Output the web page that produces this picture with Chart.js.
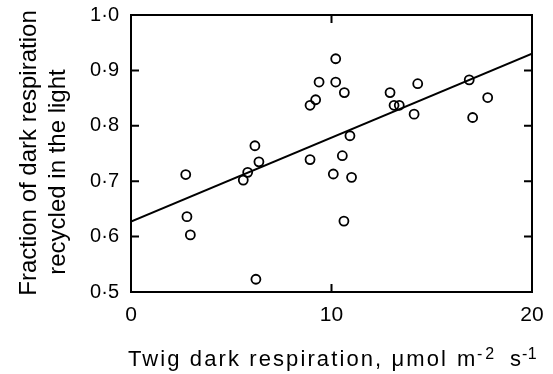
<!DOCTYPE html>
<html>
<head>
<meta charset="utf-8">
<script src="https://cdn.jsdelivr.net/npm/chart.js@4.4.0/dist/chart.umd.min.js"></script>
<style>
  html, body { margin: 0; padding: 0; background: #fff; }
</style>
</head>
<body>
<canvas id="respcanvas" width="553" height="374"></canvas>
<script>
// twig dark respiration (x) vs fraction recycled in the light (y)
const respX = [2.73, 2.79, 2.96, 5.60, 5.82, 6.18, 6.38, 6.23, 8.93, 9.21, 9.38, 8.93, 10.09, 10.21,
               10.21, 10.64, 10.54, 11.00, 10.62, 10.92, 12.92, 13.12, 13.38, 14.12, 14.30, 16.87, 17.04, 17.79];
const recycledY = [0.712, 0.636, 0.603, 0.702, 0.716, 0.764, 0.735, 0.523, 0.837, 0.847, 0.879, 0.739, 0.713, 0.921,
                   0.879, 0.860, 0.746, 0.707, 0.628, 0.782, 0.860, 0.837, 0.837, 0.821, 0.876, 0.883, 0.815, 0.851];
// regression line end points
const fitX = [0, 20];
const fitY = [0.627, 0.930];

const xTickValues = [0, 10, 20];
const yTickValues = [0.5, 0.6, 0.7, 0.8, 0.9, 1.0];
const innerXTicks = [10];
const innerYTicks = [0.6, 0.7, 0.8, 0.9];

const yTitleLines = ['Fraction of dark respiration', 'recycled in the light'];
const xTitleMain = 'Twig dark respiration, \u03bcmol';

const FONT = '"Liberation Sans", Arial, Helvetica, sans-serif';

const points = respX.map((v, i) => ({ x: v, y: recycledY[i] }));
const fitLine = fitX.map((v, i) => ({ x: v, y: fitY[i] }));

const frameAndTitles = {
    id: 'frameAndTitles',
    afterDraw(chart) {
        const { ctx, chartArea: a, scales: { x, y } } = chart;
        ctx.save();
        ctx.strokeStyle = '#000';
        ctx.lineWidth = 2;
        ctx.strokeRect(a.left, a.top, a.right - a.left, a.bottom - a.top);

        // ticks pointing into the plot, on all four sides
        ctx.beginPath();
        innerYTicks.forEach(v => {
            const py = y.getPixelForValue(v);
            ctx.moveTo(a.left, py); ctx.lineTo(a.left + 8, py);
            ctx.moveTo(a.right, py); ctx.lineTo(a.right - 8, py);
        });
        innerXTicks.forEach(v => {
            const px = x.getPixelForValue(v);
            ctx.moveTo(px, a.top); ctx.lineTo(px, a.top + 8);
            ctx.moveTo(px, a.bottom); ctx.lineTo(px, a.bottom - 8);
        });
        ctx.stroke();

        ctx.fillStyle = '#000';
        // y title, two rotated lines
        ctx.font = '24px ' + FONT;
        ctx.textAlign = 'center';
        ctx.textBaseline = 'alphabetic';
        [[36, 153], [65, 172]].forEach((pos, i) => {
            ctx.save();
            ctx.translate(pos[0], pos[1]);
            ctx.rotate(-Math.PI / 2);
            ctx.fillText(yTitleLines[i], 0, 0);
            ctx.restore();
        });

        // x title with superscripts
        ctx.textAlign = 'left';
        const base = 365.5;
        ctx.font = '22px ' + FONT;
        const w = ctx.measureText(xTitleMain).width;
        ctx.letterSpacing = ((448 - 128 - w) / xTitleMain.length).toFixed(2) + 'px';
        ctx.fillText(xTitleMain, 128, base);
        ctx.letterSpacing = '0px';
        ctx.fillText('m', 457, base);
        ctx.fillText('s', 510, base);
        ctx.font = '16px ' + FONT;
        ctx.letterSpacing = '3px';
        ctx.fillText('-2', 477, base - 6.5);
        ctx.letterSpacing = '0.5px';
        ctx.fillText('-1', 522, base - 6.5);
        ctx.restore();
    }
};

new Chart(document.getElementById('respcanvas'), {
    data: {
        datasets: [{
                type: 'scatter',
                data: points,
                pointStyle: 'circle',
                pointRadius: 4.5,
                pointBorderWidth: 1.8,
                pointBorderColor: '#000',
                pointBackgroundColor: 'rgba(255,255,255,0)'
            },
            {
                type: 'line',
                data: fitLine,
                borderColor: '#000',
                borderWidth: 2,
                pointRadius: 0,
                fill: false
            }
        ]
    },
    options: {
        responsive: false,
        animation: false,
        layout: { padding: { top: 15, right: 21, left: 0, bottom: 0 } },
        plugins: {
            legend: { display: false },
            tooltip: { enabled: false }
        },
        scales: {
            x: {
                type: 'linear',
                min: 0,
                max: 20,
                afterBuildTicks: s => { s.ticks = xTickValues.map(v => ({ value: v })); },
                afterFit: s => { s.height = 82; s.paddingLeft = 0; s.paddingRight = 0; },
                ticks: {
                    padding: 11,
                    color: '#000',
                    font: { size: 21, family: FONT },
                    maxRotation: 0
                },
                grid: { display: false, drawTicks: false },
                border: { display: false }
            },
            y: {
                type: 'linear',
                min: 0.5,
                max: 1.0,
                afterBuildTicks: s => { s.ticks = yTickValues.map(v => ({ value: v })); },
                afterFit: s => { s.width = 131; s.paddingTop = 0; s.paddingBottom = 0; },
                ticks: {
                    padding: 12,
                    color: '#000',
                    font: { size: 20, family: FONT },
                    callback: v => v.toFixed(1).replace('.', '\u00b7')
                },
                grid: { display: false, drawTicks: false },
                border: { display: false }
            }
        }
    },
    plugins: [frameAndTitles]
});
</script>
</body>
</html>
